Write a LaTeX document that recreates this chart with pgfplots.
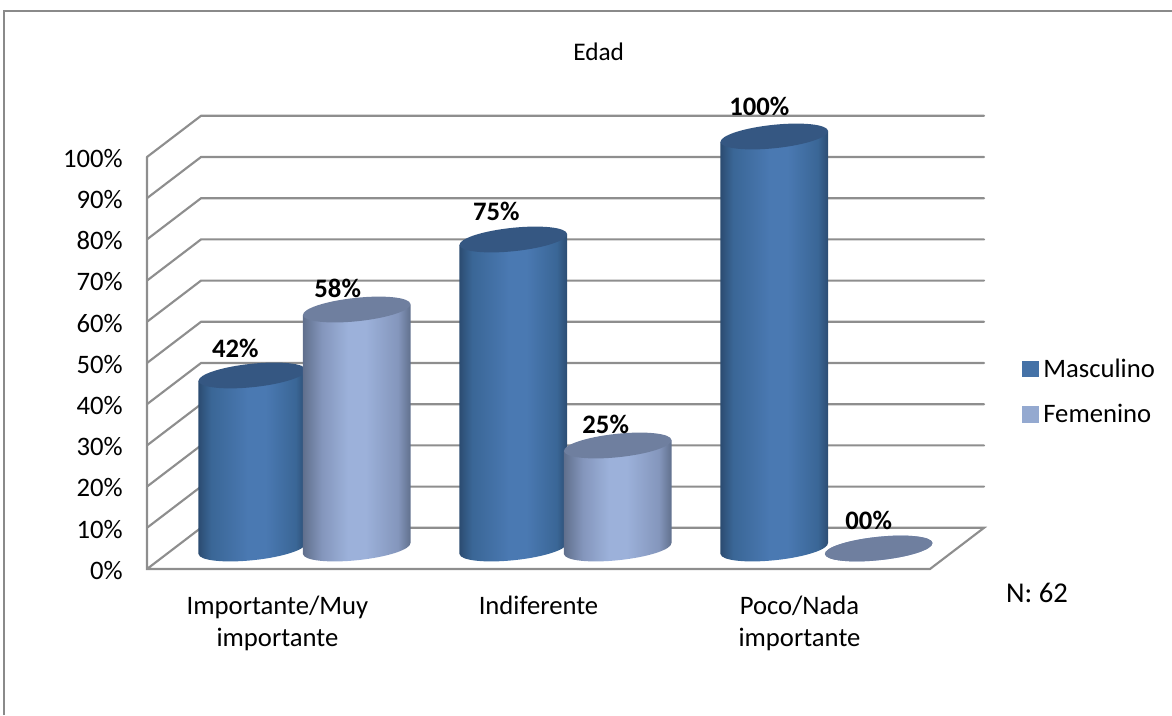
\documentclass[border=0pt]{standalone}
\usepackage{fontspec}
\setmainfont{Carlito}
\usepackage{pgfplots}
\pgfplotsset{compat=1.18}
\usepackage{pgfplotstable}
\definecolor{gridc}{HTML}{8E8E8E}
\definecolor{frm}{HTML}{8A8A8A}
\definecolor{bA}{HTML}{2B4B70}
\definecolor{bB}{HTML}{3A6696}
\definecolor{bC}{HTML}{4A79B2}
\definecolor{bTop}{HTML}{355782}
\definecolor{lA}{HTML}{5F6E8B}
\definecolor{lB}{HTML}{8496BC}
\definecolor{lC}{HTML}{9CB1DA}
\definecolor{lTop}{HTML}{6F7F9F}
\definecolor{legB}{HTML}{4572A7}
\definecolor{legL}{HTML}{94A9D0}
\pgfdeclarehorizontalshading{cylB}{100bp}{color(0bp)=(bA);color(25bp)=(bA);color(31bp)=(bB);color(48bp)=(bC);color(56bp)=(bC);color(70bp)=(bB);color(75bp)=(bA);color(100bp)=(bA)}
\pgfdeclarehorizontalshading{cylL}{100bp}{color(0bp)=(lA);color(25bp)=(lA);color(34bp)=(lB);color(46bp)=(lC);color(54bp)=(lC);color(69bp)=(lB);color(75bp)=(lA);color(100bp)=(lA)}
\newcommand\cylbody[2]{%
  \pgfmathsetlengthmacro\cylH{\cylval*3.09pt}%
  \pgfpathellipse{\pgfpoint{0pt}{-\cylH}}{\pgfqpoint{40.3pt}{4.2pt}}{\pgfqpoint{-0.92pt}{8.73pt}}%
  \pgfpathmoveto{\pgfpoint{-40.4pt}{-3.95pt-\cylH}}%
  \pgfpathlineto{\pgfpoint{40.4pt}{3.95pt-\cylH}}%
  \pgfpathlineto{\pgfpoint{40.4pt}{3.95pt}}%
  \pgfpathlineto{\pgfpoint{-40.4pt}{-3.95pt}}%
  \pgfpathclose
  \pgfshadepath{#1}{0}\pgfusepath{discard}%
  \pgfsetfillcolor{#2}%
  \pgfpathellipse{\pgfpointorigin}{\pgfqpoint{40.3pt}{4.2pt}}{\pgfqpoint{-0.92pt}{8.73pt}}%
  \pgfusepath{fill}%
}
\pgfdeclareplotmark{cylblue}{\cylbody{cylB}{bTop}}
\pgfdeclareplotmark{cyllight}{\cylbody{cylL}{lTop}}
\pgfplotstableread{
x y
-0.2 42
0.8 75
1.8 100
}\masc
\pgfplotstableread{
x y
0.2 58
1.2 25
2.2 0
}\fem
\pgfplotstableread{
x y dx dy lab
-0.2 42 -17 27.5 42\%
0.2 58 -19 21.5 58\%
0.8 75 -17 28.5 75\%
1.2 25 -12 21.5 25\%
1.8 100 -15 30.5 100\%
2.2 0 -10 28.5 00\%
}\labs
\newcommand\fs{\fontsize{20}{24}\selectfont}
\begin{document}
\begin{tikzpicture}[x=1pt,y=1pt]
\path[use as bounding box] (0,0) rectangle (879,536.25);
\draw[frm,line width=1.6pt] (3,0) -- (3,528) -- (879,528);
\begin{axis}[
  at={(110.25pt,109.5pt)},anchor=south west,
  x=195.75pt,y=3.09pt,
  xmin=-0.5,xmax=2.5,ymin=0,ymax=100,
  clip=false,
  axis line style={draw=none},
  tick style={draw=none},
  xtick={0,1,2},
  xticklabels={{Importante/Muy\\importante},Indiferente,{Poco/Nada\\importante}},
  xticklabel style={align=center,anchor=north,inner sep=0pt,yshift=-20pt,font=\fs},
  ytick={0,10,...,100},
  yticklabel={\pgfmathprintnumber{\tick}\%},
  yticklabel style={anchor=east,inner sep=0pt,xshift=-18pt,yshift=-1pt,font=\fs},
  /pgf/number format/assume math mode=true,
  legend style={at={(1.117,0.43)},anchor=west,draw=none,fill=none,font=\fs,inner sep=0pt,
    /tikz/row sep=15pt,legend cell align=left},
  legend image code/.code={\fill[#1] (0pt,-5.4pt) rectangle (11pt,5.4pt);\path (12.5pt,0pt);},
  every axis plot/.append style={line width=1.6pt,gridc,line cap=round},
]
\addlegendimage{legB}\addlegendentry{Masculino}
\addlegendimage{legL}\addlegendentry{Femenino}
\addplot[forget plot] coordinates {(-0.5,100)(-0.5,0)(2.5,0)(2.707,10)(-0.293,10)(-0.5,0)};
\addplot[forget plot] coordinates {(-0.5,10)(-0.293,20)(2.707,20)};
\addplot[forget plot] coordinates {(-0.5,20)(-0.293,30)(2.707,30)};
\addplot[forget plot] coordinates {(-0.5,30)(-0.293,40)(2.707,40)};
\addplot[forget plot] coordinates {(-0.5,40)(-0.293,50)(2.707,50)};
\addplot[forget plot] coordinates {(-0.5,50)(-0.293,60)(2.707,60)};
\addplot[forget plot] coordinates {(-0.5,60)(-0.293,70)(2.707,70)};
\addplot[forget plot] coordinates {(-0.5,70)(-0.293,80)(2.707,80)};
\addplot[forget plot] coordinates {(-0.5,80)(-0.293,90)(2.707,90)};
\addplot[forget plot] coordinates {(-0.5,90)(-0.293,100)(2.707,100)};
\addplot[forget plot] coordinates {(-0.5,100)(-0.293,110)(2.707,110)};
\end{axis}
\begin{axis}[
  at={(130.5pt,124.875pt)},anchor=south west,
  x=195.75pt,y=3.09pt,
  xmin=-0.5,xmax=2.5,ymin=0,ymax=100,
  clip=false,hide axis,
]
\addplot[scatter,only marks,mark=cylblue,visualization depends on={rawy\as\cylval}] table[x=x,y=y] {\masc};
\addplot[scatter,only marks,mark=cyllight,visualization depends on={rawy\as\cylval}] table[x=x,y=y] {\fem};
\addplot[draw=none,mark=none,
  visualization depends on={\thisrow{dx}\as\ldx},
  visualization depends on={\thisrow{dy}\as\ldy},
  point meta=explicit symbolic,
  nodes near coords,
  nodes near coords style={anchor=center,inner sep=0pt,text=black,font=\fs\bfseries,xshift=\ldx*0.75pt,yshift=\ldy*0.75pt},
] table[x=x,y=y,meta=lab] {\labs};
\end{axis}
\node[font=\fontsize{19}{23}\selectfont,anchor=center] at (449,497.25) {Edad};
\node[font=\fontsize{21.5}{25}\selectfont,anchor=center] at (777.75,91.5) {N: 62};
\end{tikzpicture}
\end{document}
